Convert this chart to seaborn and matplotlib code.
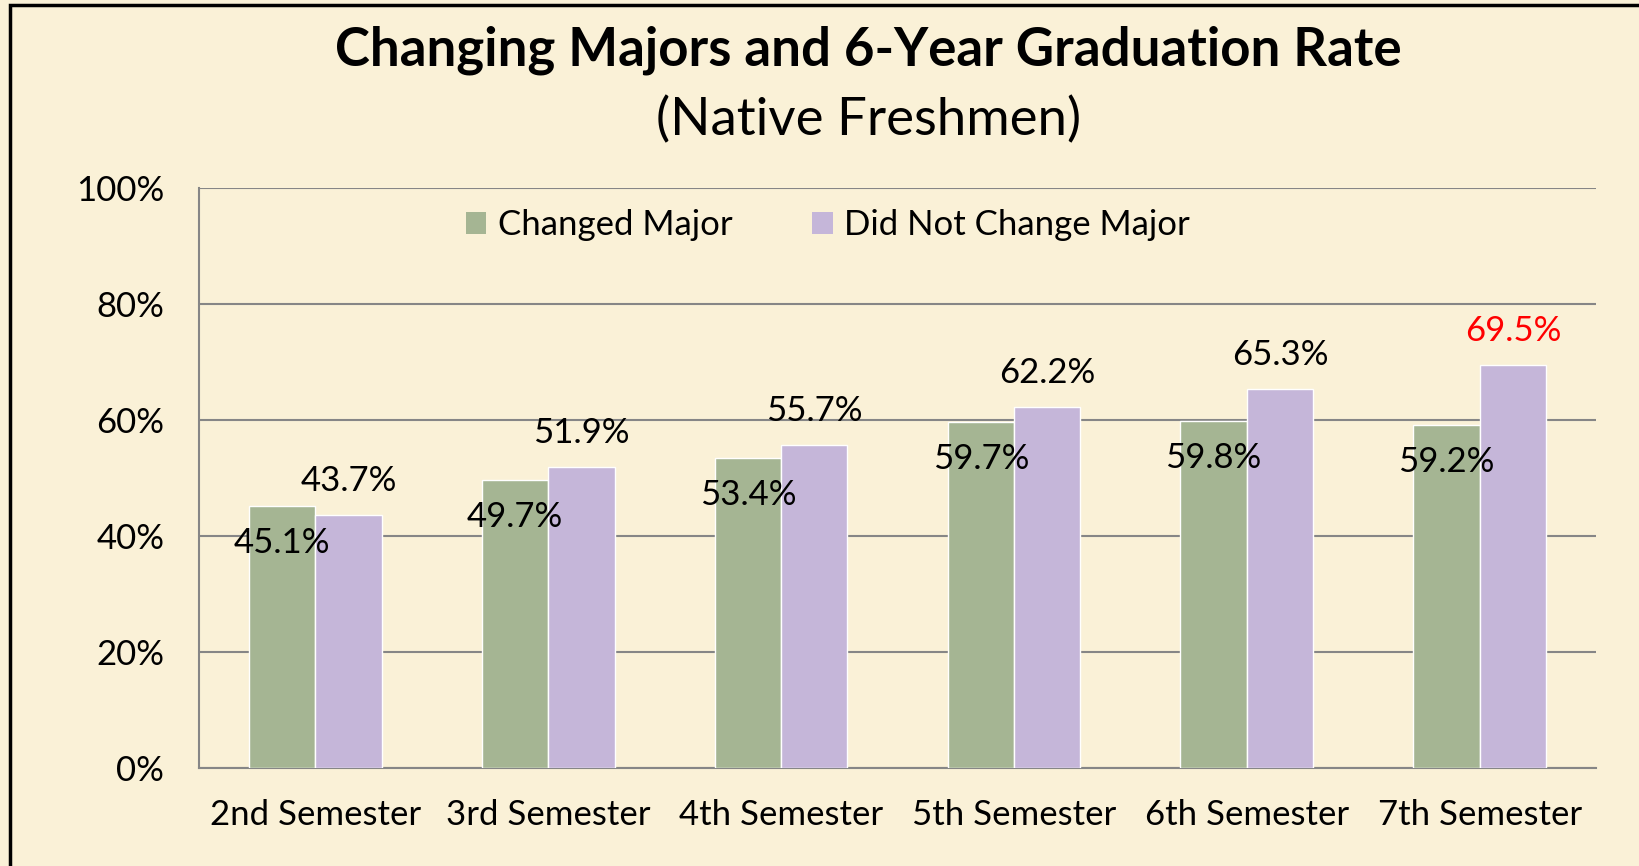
import matplotlib
matplotlib.use("Agg")
import matplotlib.pyplot as plt
from matplotlib.patches import Rectangle, Patch
import seaborn as sns
import pandas as pd

semesters = ["2nd Semester", "3rd Semester", "4th Semester", "5th Semester", "6th Semester", "7th Semester"]
changed = [45.1, 49.7, 53.4, 59.7, 59.8, 59.2]
not_changed = [43.7, 51.9, 55.7, 62.2, 65.3, 69.5]
series = ["Changed Major", "Did Not Change Major"]
yticks = [0, 20, 40, 60, 80, 100]

BG = "#FAF1D7"
GREEN = "#A5B593"
PURPLE = "#C5B6D9"
GRID = "#868686"
FS = 25

sns.set_theme(style="white")
plt.rcParams["font.family"] = ["Lato", "DejaVu Sans"]
plt.rcParams["text.color"] = "black"

df = pd.DataFrame({
    "Semester": semesters * 2,
    "Series": [series[0]] * len(semesters) + [series[1]] * len(semesters),
    "Rate": changed + not_changed,
})

fig = plt.figure(figsize=(16.39, 8.66), dpi=100, facecolor=BG)
ax = fig.add_axes([0.1214, 0.1132, 0.9738 - 0.1214, 0.7829 - 0.1132])
ax.set_facecolor(BG)

sns.barplot(data=df, x="Semester", y="Rate", hue="Series", order=semesters,
            hue_order=series, palette=[GREEN, PURPLE], width=0.57,
            saturation=1, ax=ax, zorder=3, legend=False)

ax.set_ylim(0, 100)
ax.set_yticks(yticks)
ax.set_yticklabels([f"{v}%" for v in yticks], fontsize=FS)
ax.tick_params(axis="y", length=0, pad=25)
ax.tick_params(axis="x", length=0, pad=22, labelsize=FS)
for lab in ax.get_xticklabels() + ax.get_yticklabels():
    lab.set_color("black")
ax.set_xlabel("")
ax.set_ylabel("")
ax.set_xlim(-0.5, len(semesters) - 0.5)
ax.yaxis.grid(True, color=GRID, linewidth=1.5, zorder=0)
ax.set_axisbelow(True)
for s in ["top", "right"]:
    ax.spines[s].set_visible(False)
for s in ["left", "bottom"]:
    ax.spines[s].set_color(GRID)
    ax.spines[s].set_linewidth(1.5)

# data labels
cont_changed, cont_not = ax.containers[0], ax.containers[1]
for bar, v in zip(cont_changed, changed):
    ax.annotate(f"{v}%", (bar.get_x() + bar.get_width() / 2, v),
                xytext=(0, -37), textcoords="offset pixels",
                ha="center", va="center", fontsize=FS, color="black", zorder=5)
for i, (bar, v) in enumerate(zip(cont_not, not_changed)):
    col = "#FF0000" if i == len(not_changed) - 1 else "black"
    ax.annotate(f"{v}%", (bar.get_x() + bar.get_width() / 2, v),
                xytext=(0, 34), textcoords="offset pixels",
                ha="center", va="center", fontsize=FS, color=col, zorder=5)

# legend
handles = [Patch(facecolor=GREEN, edgecolor="none"), Patch(facecolor=PURPLE, edgecolor="none")]
leg = fig.legend(handles, series, loc="center", bbox_to_anchor=(0.505, 1 - 225 / 866),
                 ncol=2, frameon=False, fontsize=FS, handlelength=0.6, handleheight=0.6,
                 handletextpad=0.32, columnspacing=2.3)

fig.text(0.530, 1 - 50 / 866, "Changing Majors and 6-Year Graduation Rate",
         ha="center", va="center", fontsize=38, fontweight="bold", color="black")
fig.text(0.530, 1 - 120 / 866, "(Native Freshmen)", ha="center", va="center",
         fontsize=38, color="black")

fig.patches.append(Rectangle((10 / 1639, -0.1), 1.2, 1 - 5 / 866 + 0.1,
                             transform=fig.transFigure, fill=False,
                             edgecolor="black", linewidth=2.5))

fig.savefig("out.png", dpi=100, facecolor=BG)
